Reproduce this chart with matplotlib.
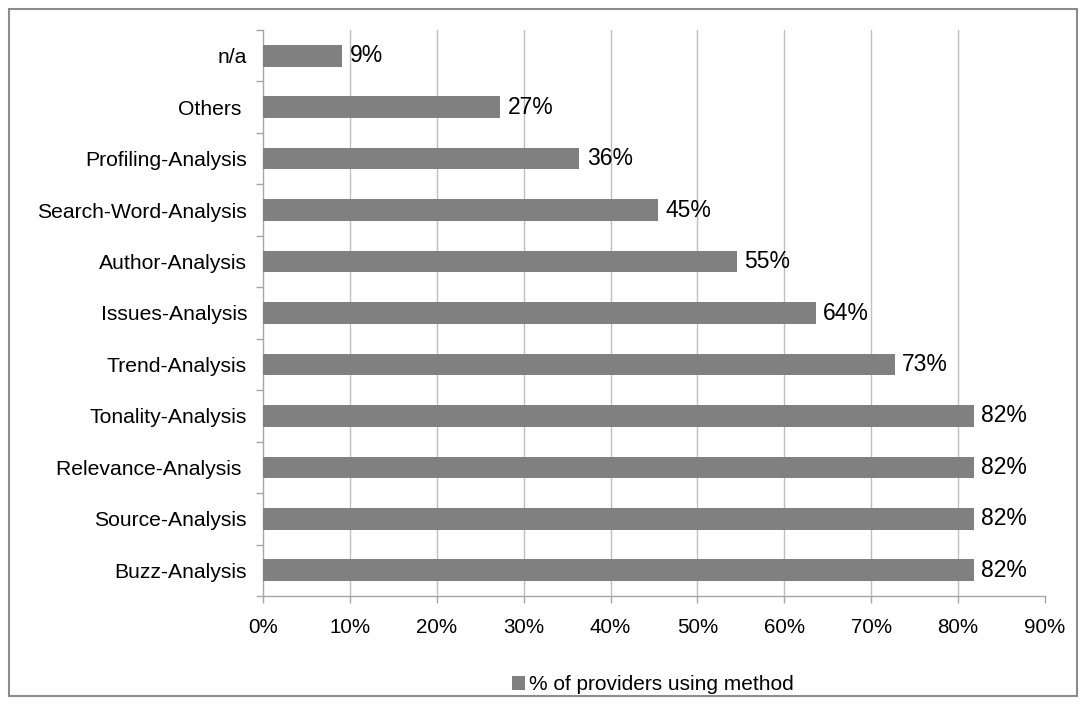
import matplotlib
matplotlib.use("Agg")
import matplotlib.pyplot as plt
from matplotlib.patches import Rectangle

plt.rcParams['font.family'] = ['Liberation Sans', 'DejaVu Sans']

categories = ["Buzz-Analysis", "Source-Analysis", "Relevance-Analysis ", "Tonality-Analysis",
              "Trend-Analysis", "Issues-Analysis", "Author-Analysis", "Search-Word-Analysis",
              "Profiling-Analysis", "Others ", "n/a"]
values = [81.8, 81.8, 81.8, 81.8, 72.7, 63.6, 54.5, 45.5, 36.4, 27.3, 9.1]
value_labels = ["82%", "82%", "82%", "82%", "73%", "64%", "55%", "45%", "36%", "27%", "9%"]
xticks = [0, 10, 20, 30, 40, 50, 60, 70, 80, 90]
series_name = "% of providers using method"

W, H = 1085, 704
fig = plt.figure(figsize=(W/100, H/100), dpi=100)
fig.patches.append(Rectangle((9/W, 8/H), (1077-9)/W, (696-9)/H, transform=fig.transFigure,
                             fill=False, edgecolor='#8c8c8c', linewidth=1.5))

ax = fig.add_axes([263/W, 1-596/H, (1045-263)/W, (596-30)/H])
y = list(range(len(categories)))
bars = ax.barh(y, values, height=0.42, color='#808080', zorder=3, label=series_name)
for yi, v, lab in zip(y, values, value_labels):
    ax.text(v + 0.85, yi, lab, va='center', ha='left', fontsize=16.5, color='black', zorder=4)

ax.set_xlim(0, 90)
ax.set_ylim(-0.5, len(categories) - 0.5)
ax.set_xticks(xticks)
ax.set_xticklabels([f"{t}%" for t in xticks], fontsize=14.8)
ax.set_yticks(y)
ax.set_yticklabels(categories, fontsize=15.2)
ax.set_yticks([i - 0.5 for i in range(len(categories) + 1)], minor=True)
ax.tick_params(axis='y', which='major', length=0, pad=11.5)
ax.tick_params(axis='y', which='minor', length=5, color='#a6a6a6', width=1)
ax.tick_params(axis='x', which='major', length=5, color='#a6a6a6', width=1, pad=10.5)
for t in xticks[1:-1]:
    ax.axvline(t, color='#bfbfbf', linewidth=1, zorder=0)
for s in ['top', 'right']:
    ax.spines[s].set_visible(False)
for s in ['left', 'bottom']:
    ax.spines[s].set_color('#a6a6a6')
    ax.spines[s].set_linewidth(1)

leg = fig.legend(handles=[bars], labels=[series_name], loc='center',
                 bbox_to_anchor=(653/W, 1-685/H), frameon=False, fontsize=15,
                 handlelength=0.65, handleheight=0.65, handletextpad=0.2)

fig.savefig("out.png", dpi=100)
